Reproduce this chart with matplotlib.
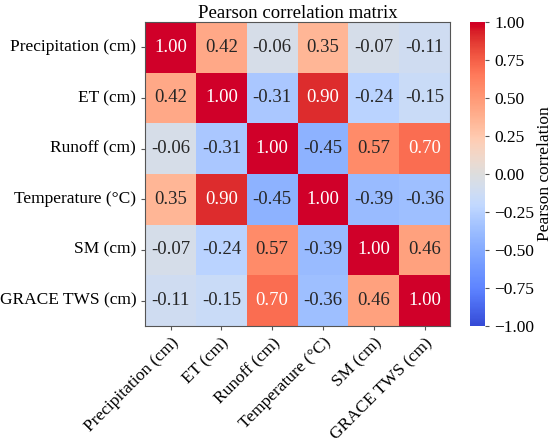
import matplotlib
matplotlib.use("Agg")
import matplotlib.pyplot as plt
import matplotlib.colors as mcolors
import numpy as np
import seaborn as sns

plt.rcParams['font.family'] = ['Liberation Serif', 'DejaVu Serif']
plt.rcParams['axes.unicode_minus'] = True

labels = ["Precipitation (cm)", "ET (cm)", "Runoff (cm)",
          "Temperature (°C)", "SM (cm)", "GRACE TWS (cm)"]

corr = np.array([
    [1.00, 0.42, -0.06, 0.35, -0.07, -0.11],
    [0.42, 1.00, -0.31, 0.90, -0.24, -0.15],
    [-0.06, -0.31, 1.00, -0.45, 0.57, 0.70],
    [0.35, 0.90, -0.45, 1.00, -0.39, -0.36],
    [-0.07, -0.24, 0.57, -0.39, 1.00, 0.46],
    [-0.11, -0.15, 0.70, -0.36, 0.46, 1.00],
])

cbar_ticks = [-1, -0.75, -0.5, -0.25, 0, 0.25, 0.5, 0.75, 1]

# coolwarm, a bit brighter / more saturated like the reference
base = plt.get_cmap('coolwarm')(np.linspace(0, 1, 256))[:, :3]
hsv = mcolors.rgb_to_hsv(base)
hsv[:, 2] = np.clip(hsv[:, 2] * (1 + 0.16 * hsv[:, 1]), 0, 1)
hsv[:, 1] = np.clip(hsv[:, 1] * 1.08, 0, 1)
cmap = mcolors.ListedColormap(mcolors.hsv_to_rgb(hsv))

fig = plt.figure(figsize=(5.5, 4.38), dpi=100)
ax = fig.add_axes([0.264, 0.256, 0.554, 0.694])
cax = fig.add_axes([0.855, 0.256, 0.027, 0.694])

sns.heatmap(corr, ax=ax, cbar_ax=cax, cmap=cmap, vmin=-1, vmax=1,
            annot=True, fmt='.2f', annot_kws={'fontsize': 13.5},
            xticklabels=labels, yticklabels=labels)

ax.set_title("Pearson correlation matrix", fontsize=13.5, pad=3)
ax.tick_params(axis='both', labelsize=12.5, length=3, color='#555555')
plt.setp(ax.get_xticklabels(), rotation=45, ha='right', rotation_mode='anchor')
plt.setp(ax.get_yticklabels(), rotation=0)
for s in ax.spines.values():
    s.set_visible(True)
    s.set_color('#555555')

cbar = ax.collections[0].colorbar
cbar.set_ticks(cbar_ticks)
cbar.ax.set_yticklabels([f"{t:.2f}".replace('-', '\u2212') for t in cbar_ticks])
cax.tick_params(labelsize=12.5, length=3, color='#555555')
cax.set_ylabel('Pearson correlation', fontsize=12.5, labelpad=2)
cbar.outline.set_visible(True)
cbar.outline.set_edgecolor('#555555')

fig.savefig("out.png", dpi=100)
